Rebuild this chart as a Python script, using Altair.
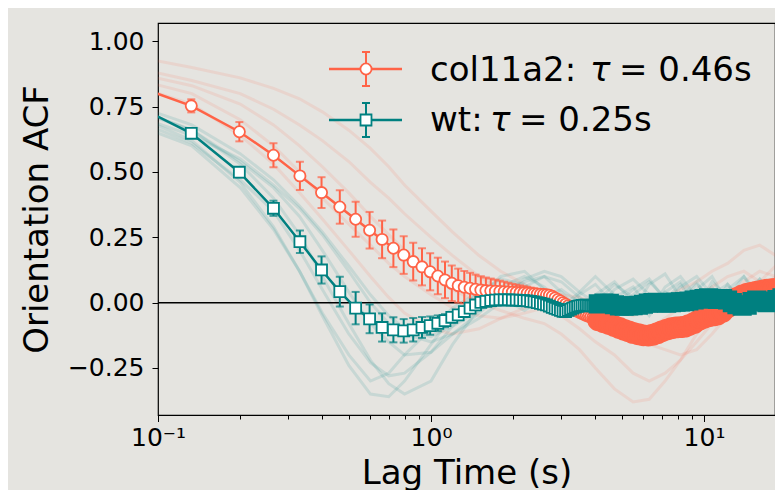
import altair as alt
import pandas as pd

# ---------------- data ----------------
lag_main = [0.0662, 0.1324, 0.1986, 0.2648, 0.331, 0.3972, 0.4634, 0.5296, 0.5958, 0.662,
            0.7282, 0.7944, 0.8606, 0.9268, 0.993, 1.0592, 1.1254, 1.1916, 1.2578, 1.324,
            1.3902, 1.4564, 1.5226, 1.5888, 1.655, 1.7212, 1.7874, 1.8536, 1.9198, 1.986,
            2.0522, 2.1184, 2.1846, 2.2508, 2.317, 2.3832, 2.4494, 2.5156, 2.5818, 2.648,
            2.7142, 2.7804, 2.8466, 2.9128, 2.979, 3.0452, 3.1114, 3.1776, 3.2438, 3.31,
            3.3762, 3.4424, 3.5086, 3.5748, 3.641, 3.7072, 3.7734, 3.8396, 3.9058, 3.972]

col_acf = [0.866, 0.753, 0.654, 0.564, 0.485, 0.421, 0.366, 0.319, 0.277, 0.242,
           0.208, 0.182, 0.157, 0.137, 0.118, 0.102, 0.087, 0.074, 0.065, 0.059,
           0.055, 0.051, 0.048, 0.046, 0.045, 0.044, 0.043, 0.042, 0.041, 0.040,
           0.039, 0.038, 0.037, 0.036, 0.035, 0.034, 0.033, 0.032, 0.031, 0.030,
           0.028, 0.024, 0.018, 0.012, 0.006, 0.000, -0.006, -0.012, -0.018, -0.024,
           -0.029, -0.033, -0.037, -0.041, -0.045, -0.049, -0.052, -0.055, -0.058, -0.061]
col_err = [0.020, 0.025, 0.037, 0.046, 0.054, 0.059, 0.064, 0.067, 0.070, 0.072,
           0.072, 0.072, 0.072, 0.071, 0.071, 0.070, 0.070, 0.068, 0.065, 0.062,
           0.059, 0.056, 0.053, 0.050, 0.047, 0.044, 0.041, 0.038, 0.035, 0.032,
           0.030, 0.028, 0.026, 0.024, 0.022, 0.020, 0.019, 0.018, 0.017, 0.016,
           0.015, 0.015, 0.015, 0.015, 0.015, 0.015, 0.015, 0.015, 0.015, 0.015,
           0.015, 0.015, 0.015, 0.015, 0.015, 0.015, 0.015, 0.015, 0.015, 0.015]

wt_acf = [0.806, 0.648, 0.499, 0.361, 0.233, 0.125, 0.042, -0.021, -0.062, -0.095,
          -0.104, -0.108, -0.104, -0.095, -0.088, -0.079, -0.069, -0.056, -0.047, -0.034,
          -0.021, -0.009, 0.001, 0.005, 0.008, 0.010, 0.011, 0.011, 0.011, 0.010,
          0.010, 0.009, 0.008, 0.007, 0.005, 0.003, 0.000, -0.003, -0.006, -0.009,
          -0.013, -0.018, -0.022, -0.026, -0.030, -0.033, -0.034, -0.030, -0.025, -0.021,
          -0.017, -0.014, -0.012, -0.011, -0.010, -0.010, -0.011, -0.012, -0.012, -0.012]
wt_err = [0.010, 0.012, 0.020, 0.029, 0.043, 0.052, 0.057, 0.062, 0.055, 0.054,
          0.048, 0.045, 0.045, 0.040, 0.035, 0.030, 0.025, 0.020, 0.018, 0.016,
          0.015, 0.015, 0.015, 0.014, 0.014, 0.014, 0.013, 0.013, 0.013, 0.013,
          0.012, 0.012, 0.012, 0.012, 0.012, 0.012, 0.012, 0.012, 0.012, 0.012,
          0.012, 0.012, 0.012, 0.012, 0.012, 0.012, 0.012, 0.012, 0.012, 0.012,
          0.012, 0.012, 0.012, 0.012, 0.012, 0.012, 0.012, 0.012, 0.012, 0.012]

# long-lag region where the markers merge into a band
lag_band = [4.1, 4.3, 4.5, 4.7, 4.9, 5.1, 5.3, 5.5, 5.75, 6.0,
            6.25, 6.5, 6.75, 7.0, 7.3, 7.6, 7.9, 8.2, 8.5, 8.8,
            9.2, 9.6, 10.0, 10.4, 10.8, 11.2, 11.7, 12.2, 12.7, 13.2,
            13.8, 14.4, 15.0, 15.6, 16.3, 17.0, 17.7, 18.5, 19.3, 20.0]
col_band = [-0.068, -0.075, -0.082, -0.090, -0.097, -0.104, -0.110, -0.116, -0.121, -0.125,
            -0.126, -0.123, -0.117, -0.110, -0.103, -0.098, -0.095, -0.094, -0.092, -0.086,
            -0.078, -0.066, -0.058, -0.052, -0.049, -0.046, -0.035, -0.018, 0.002, 0.018,
            0.028, 0.034, 0.038, 0.042, 0.046, 0.050, 0.052, 0.054, 0.056, 0.057]
wt_band = [-0.005, -0.002, -0.003, -0.008, -0.013, -0.014, -0.013, -0.012, -0.010, -0.006,
           -0.002, 0.000, 0.001, 0.000, -0.002, 0.000, 0.002, 0.003, 0.004, 0.006,
           0.010, 0.013, 0.016, 0.018, 0.016, 0.012, 0.016, 0.010, 0.000, -0.008,
           -0.014, -0.010, 0.004, 0.010, 0.004, 0.000, 0.006, 0.012, 0.018, 0.020]

# individual (faint) traces
lag_trace = [0.066, 0.133, 0.2, 0.265, 0.33, 0.4, 0.5, 0.6, 0.7, 0.8, 1.0, 1.2, 1.5, 1.8, 2.2,
             2.6, 3.0, 3.5, 4.0, 4.7, 5.5, 6.3, 7.2, 8.2, 9.4, 10.7, 12.2, 14.0, 16.0, 18.3, 20.0]
wt_traces = {
    "w1": [0.76, 0.62, 0.46, 0.29, 0.12, -0.05, -0.24, -0.35, -0.36, -0.30, -0.16, -0.05, 0.04, 0.09, 0.07,
           0.02, -0.04, 0.03, 0.07, -0.01, 0.05, 0.09, 0.01, 0.07, -0.03, 0.08, 0.02, 0.10, 0.03, 0.08, 0.04],
    "w2": [0.78, 0.66, 0.53, 0.40, 0.26, 0.10, -0.08, -0.22, -0.31, -0.35, -0.30, -0.16, -0.02, 0.06, 0.10,
           0.06, 0.00, -0.05, 0.03, 0.08, 0.00, -0.04, 0.06, 0.10, 0.02, -0.04, 0.07, 0.00, 0.09, 0.02, 0.05],
    "w3": [0.74, 0.61, 0.47, 0.35, 0.20, 0.05, -0.12, -0.23, -0.28, -0.27, -0.19, -0.09, 0.02, 0.10, 0.12,
           0.05, -0.02, 0.04, 0.10, 0.03, -0.03, 0.07, 0.11, 0.02, 0.08, -0.02, 0.05, 0.10, 0.00, 0.06, 0.02],
    "w4": [0.77, 0.66, 0.54, 0.44, 0.33, 0.20, 0.04, -0.08, -0.15, -0.20, -0.19, -0.12, -0.04, 0.03, 0.08,
           0.10, 0.04, -0.03, 0.00, 0.07, 0.02, -0.05, 0.04, 0.08, 0.00, 0.06, -0.03, 0.04, 0.09, 0.01, 0.03],
    "w5": [0.75, 0.64, 0.55, 0.45, 0.36, 0.26, 0.12, 0.00, -0.08, -0.12, -0.15, -0.12, -0.06, 0.00, 0.06,
           0.10, 0.08, 0.02, -0.03, 0.05, 0.09, 0.03, -0.02, 0.06, 0.10, 0.03, 0.07, -0.01, 0.05, 0.08, 0.02],
    "w6": [0.72, 0.60, 0.44, 0.28, 0.12, -0.04, -0.20, -0.30, -0.27, -0.20, -0.10, -0.02, 0.04, 0.02, -0.03,
           0.02, 0.05, 0.00, -0.05, 0.02, 0.06, -0.02, 0.04, 0.00, 0.07, 0.02, -0.04, 0.05, 0.00, 0.04, 0.06],
    "w7": [0.79, 0.68, 0.57, 0.47, 0.37, 0.27, 0.14, 0.03, -0.05, -0.10, -0.13, -0.09, -0.03, 0.03, 0.09,
           0.12, 0.10, 0.04, 0.00, -0.04, 0.03, 0.08, 0.02, -0.02, 0.05, 0.10, 0.00, 0.06, 0.02, 0.07, 0.03],
}
col_traces = {
    "c1": [0.96, 0.90, 0.86, 0.82, 0.78, 0.73, 0.66, 0.59, 0.52, 0.45, 0.35, 0.27, 0.18, 0.12, 0.07,
           0.04, 0.03, 0.02, 0.00, -0.03, -0.05, -0.02, 0.02, 0.05, 0.08, 0.12, 0.15, 0.20, 0.22, 0.18, 0.20],
    "c2": [0.92, 0.85, 0.80, 0.74, 0.68, 0.62, 0.54, 0.46, 0.40, 0.34, 0.25, 0.18, 0.10, 0.05, 0.00,
           -0.03, -0.05, -0.10, -0.15, -0.20, -0.27, -0.30, -0.27, -0.22, -0.12, -0.05, 0.02, 0.08, 0.12, 0.10, 0.15],
    "c3": [0.90, 0.83, 0.76, 0.68, 0.60, 0.52, 0.42, 0.33, 0.26, 0.20, 0.10, 0.05, 0.00, -0.03, -0.06,
           -0.08, -0.12, -0.18, -0.25, -0.33, -0.38, -0.37, -0.30, -0.22, -0.15, -0.08, 0.00, 0.05, 0.02, 0.08, 0.10],
    "c4": [0.88, 0.80, 0.70, 0.60, 0.50, 0.40, 0.30, 0.22, 0.15, 0.10, 0.03, -0.02, -0.05, -0.06, -0.04,
           -0.02, 0.00, -0.04, -0.08, -0.12, -0.14, -0.16, -0.18, -0.20, -0.18, -0.12, -0.05, 0.00, 0.05, 0.10, 0.08],
    "c5": [0.86, 0.76, 0.64, 0.53, 0.42, 0.32, 0.20, 0.10, 0.02, -0.04, -0.10, -0.12, -0.10, -0.06, -0.02,
           0.02, 0.00, -0.04, -0.06, -0.10, -0.14, -0.10, -0.06, -0.02, 0.02, 0.06, 0.10, 0.12, 0.08, 0.14, 0.12],
}

x_ticks = [0.1, 0.2, 0.3, 0.4, 0.5, 0.6, 0.7, 0.8, 0.9, 1, 2, 3, 4, 5, 6, 7, 8, 9, 10]
y_ticks = [-0.25, 0.0, 0.25, 0.5, 0.75, 1.0]
legend_names = ["col11a2:", "wt:"]
legend_tau = ["= 0.46s", "= 0.25s"]

# ---------------- style ----------------
BG = "#e5e4e0"
RED = "#ff6347"
TEAL = "#008080"
FONT = "DejaVu Sans"
W, H = 617, 392

xs = alt.Scale(type="log", domain=[0.1, 18.2], nice=False)
ys = alt.Scale(domain=[-0.43, 1.07], nice=False, zero=False)

major_test = "datum.value == 0.1 || datum.value == 1 || datum.value == 10"
x_axis = alt.Axis(
    values=x_ticks, grid=False, domain=False, tickColor="black",
    tickSize={"condition": {"test": major_test, "value": 6.5}, "value": 4},
    tickWidth=1,
    labelExpr="datum.value == 0.1 ? '10\u207b\u00b9' : datum.value == 1 ? '10\u2070' : datum.value == 10 ? '10\u00b9' : ''",
    labelFont=FONT, labelFontSize=25, labelColor="black", labelBaseline="alphabetic",
    labelPadding=24, labelFlush=False, labelOverlap=False,
    title="Lag Time (s)", titleFont=FONT, titleFontSize=34, titleFontWeight="normal",
    titleColor="black", titleY=68, titleBaseline="alphabetic",
)
y_axis = alt.Axis(
    values=y_ticks, grid=False, domain=False, tickColor="black", tickSize=6, tickWidth=1,
    labelExpr="replace(format(datum.value, '.2f'), '-', '\u2212')",
    labelFont=FONT, labelFontSize=25, labelColor="black", labelPadding=8,
    title="Orientation ACF", titleFont=FONT, titleFontSize=34, titleFontWeight="normal",
    titleColor="black", titleAngle=270, titleX=-111, titleY=H / 2,
    titleBaseline="alphabetic", titleAlign="center",
)


def X(field="lag"):
    return alt.X(f"{field}:Q", scale=xs, axis=x_axis)


def Y(field="acf"):
    return alt.Y(f"{field}:Q", scale=ys, axis=y_axis)


def series_df(acf, err, band):
    d = pd.DataFrame({"lag": lag_main, "acf": acf, "err": err})
    d["lo"] = d["acf"] - d["err"]
    d["hi"] = d["acf"] + d["err"]
    b = pd.DataFrame({"lag": lag_band, "acf": band})
    line = pd.concat([d[["lag", "acf"]], b], ignore_index=True)
    return d, b, line


def trace_df(traces):
    rows = []
    for name, vals in traces.items():
        for lg, v in zip(lag_trace, vals):
            rows.append({"lag": lg, "acf": v, "trace": name})
    return pd.DataFrame(rows)


layers = []
# faint traces
layers.append(alt.Chart(trace_df(col_traces)).mark_line(color=RED, strokeWidth=3, opacity=0.12, clip=True)
              .encode(x=X(), y=Y(), detail="trace:N"))
layers.append(alt.Chart(trace_df(wt_traces)).mark_line(color=TEAL, strokeWidth=3, opacity=0.13, clip=True)
              .encode(x=X(), y=Y(), detail="trace:N"))
# zero line
layers.append(alt.Chart(pd.DataFrame({"acf": [0.0]})).mark_rule(color="black", strokeWidth=1.5)
              .encode(y=Y()))

for acf, err, band, col, shape, size, bsize in [
    (col_acf, col_err, col_band, RED, "circle", 125, 400),
    (wt_acf, wt_err, wt_band, TEAL, "square", 120, 300),
]:
    d, b, line = series_df(acf, err, band)
    base = alt.Chart(d)
    layers.append(alt.Chart(line).mark_line(color=col, strokeWidth=2.5, clip=True).encode(x=X(), y=Y()))
    layers.append(base.mark_rule(color=col, strokeWidth=2, clip=True).encode(x=X(), y=Y("lo"), y2="hi:Q"))
    layers.append(base.mark_tick(color=col, orient="horizontal", size=8, thickness=2, clip=True)
                  .encode(x=X(), y=Y("lo")))
    layers.append(base.mark_tick(color=col, orient="horizontal", size=8, thickness=2, clip=True)
                  .encode(x=X(), y=Y("hi")))
    layers.append(base.mark_point(shape=shape, filled=True, fill="white", stroke=col, strokeWidth=1.8,
                                  size=size, opacity=1, clip=True).encode(x=X(), y=Y()))
    layers.append(alt.Chart(b).mark_point(shape=shape, filled=True, fill=col, stroke=col, strokeWidth=1.8,
                                          size=bsize, opacity=1, clip=True).encode(x=X(), y=Y()))

# legend (drawn by hand so that it shows line + marker + error bar)
one = pd.DataFrame({"k": [0]})
for col, shape, size, yy in [(RED, "circle", 125, 46), (TEAL, "square", 120, 97)]:
    lb = alt.Chart(one)
    layers.append(lb.mark_rule(color=col, strokeWidth=2.5).encode(
        x=alt.value(171), x2=alt.value(244), y=alt.value(yy)))
    layers.append(lb.mark_rule(color=col, strokeWidth=2).encode(
        x=alt.value(208), y=alt.value(yy - 17), y2=alt.value(yy + 17)))
    for cy in (yy - 17, yy + 17):
        layers.append(lb.mark_rule(color=col, strokeWidth=2).encode(
            x=alt.value(204), x2=alt.value(212), y=alt.value(cy)))
    layers.append(lb.mark_point(shape=shape, filled=True, fill="white", stroke=col, strokeWidth=1.8,
                                size=size, opacity=1).encode(x=alt.value(208), y=alt.value(yy)))

text_pos = [(272, 432, 461, 58), (272, 332, 361, 108)]
for name, tau_txt, (x0, xt, xe, yb) in zip(legend_names, legend_tau, text_pos):
    lb = alt.Chart(one)
    common = dict(font=FONT, fontSize=34, align="left", baseline="alphabetic", color="black")
    layers.append(lb.mark_text(text=name, **common).encode(x=alt.value(x0), y=alt.value(yb)))
    layers.append(lb.mark_text(text="\u03c4", fontStyle="italic", **common).encode(x=alt.value(xt), y=alt.value(yb)))
    layers.append(lb.mark_text(text=tau_txt, **common).encode(x=alt.value(xe), y=alt.value(yb)))

chart = alt.layer(*layers).properties(
    width=W, height=H, background=BG,
    padding={"left": 150, "top": 15, "right": 0, "bottom": 75},
    autosize=alt.AutoSizeParams(type="none"),
).configure_view(stroke="black", strokeWidth=1.2, fill=BG)

chart.save("out.html", embed_options={"renderer": "svg", "actions": False})
